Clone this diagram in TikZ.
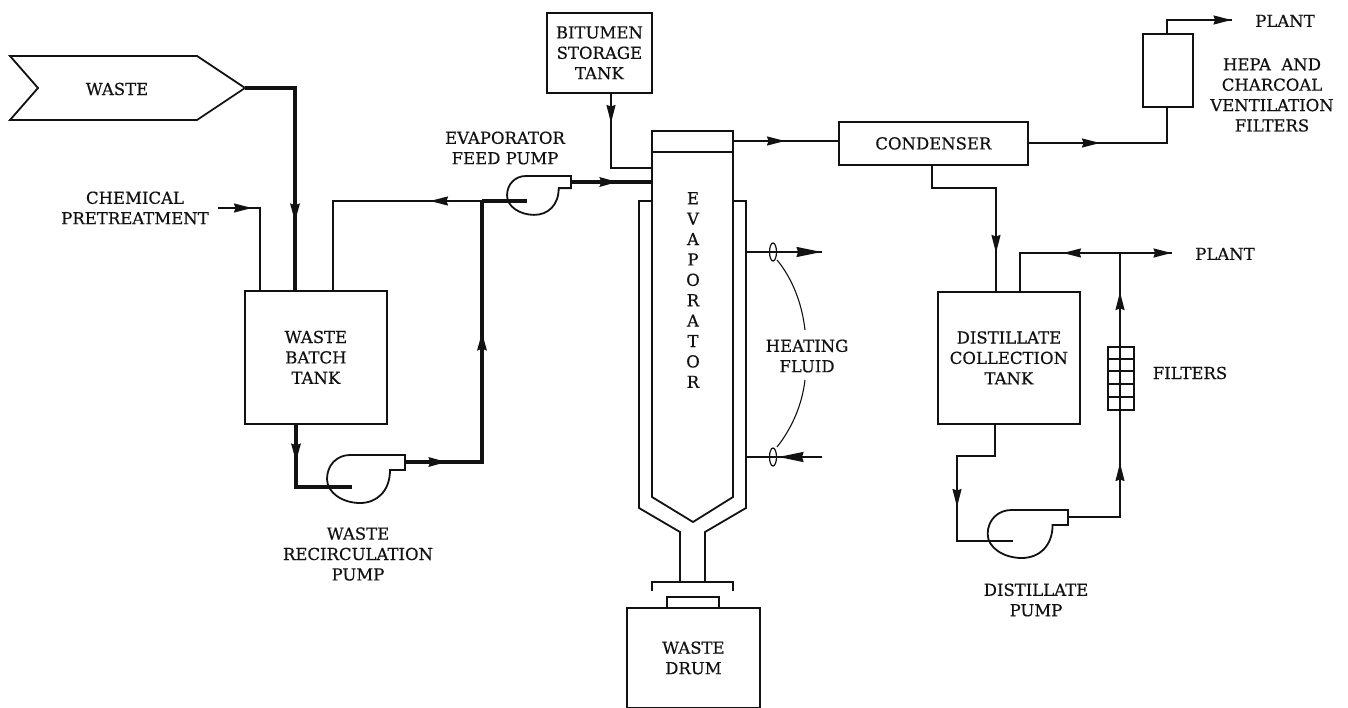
\documentclass[tikz,border=0pt]{standalone}
\usepackage{fontspec}
\setmainfont[FakeBold=0.5]{DejaVu Serif}
\usetikzlibrary{arrows.meta,decorations.markings}
\definecolor{ink}{gray}{0.07}
\tikzset{
  x=1pt,y=-1pt,
  every node/.style={font=\fontsize{16.5}{20.4}\selectfont,text=ink,align=center,inner sep=0pt},
  pipe/.style={draw=ink,line width=1.6pt,line join=miter},
  thick pipe/.style={draw=ink,line width=3.6pt,line join=miter},
  vessel/.style={draw=ink,line width=1.8pt,rectangle,anchor=north west},
  wall/.style={draw=ink,line width=1.8pt,line join=miter},
  tipat/.style={postaction={decorate,decoration={markings,mark=at position #1 with {\arrow{Stealth[length=18pt,width=9pt,inset=1.5pt,fill=ink]}}}}},
  bigtip/.style={postaction={decorate,decoration={markings,mark=at position #1 with {\arrow{Stealth[length=25pt,width=10pt,inset=1.5pt,fill=ink]}}}}},
}
\newcommand{\pumpbody}[3]{%
  \draw[wall,shift={(#1)},xscale=#2,yscale=#3]
    (0,0) -- (-55,0) .. controls (-68,0) and (-78,10) .. (-78,24)
    .. controls (-78,38) and (-62,48) .. (-45,48)
    .. controls (-28,48) and (-15,36) .. (-15,15) -- (0,15) -- cycle;}
\begin{document}
\begin{tikzpicture}
\useasboundingbox (0,0) rectangle (1348,708);
% vessels
\draw[wall] (10,56) -- (38,88) -- (10,120) -- (197,120) -- (245,88) -- (197,56) -- cycle;
\node (wastelabel) at (117,89) {WASTE};
\coordinate (wastetip) at (245,88);
\node[vessel,minimum width=142pt,minimum height=133pt] (batch) at (244,290) {WASTE\\BATCH\\TANK};
\node[vessel,minimum width=105pt,minimum height=80pt] (bitumen) at (546,12) {BITUMEN\\STORAGE\\TANK};
\node[vessel,minimum width=189pt,minimum height=43pt] (condenser) at (838,121) {CONDENSER};
\node[vessel,minimum width=50pt,minimum height=73pt] (hepa) at (1142,33) {};
\node[vessel,minimum width=142pt,minimum height=132pt] (dist) at (937,291) {DISTILLATE\\COLLECTION\\TANK};
\node[vessel,minimum width=133pt,minimum height=100pt] (drum) at (626,607) {WASTE\\DRUM};
% evaporator
\draw[wall] (652,201) -- (639,201) -- (639,508) -- (680,532) -- (680,582);
\draw[wall] (733,201) -- (746,201) -- (746,508) -- (705,532) -- (705,582);
\draw[wall] (652,131) -- (733,131) -- (733,497) -- (693,522) -- (652,497) -- cycle;
\draw[wall] (652,152) -- (733,152);
\draw[wall] (652,591) -- (652,582) -- (733,582) -- (733,591);
\draw[wall] (667,607) -- (667,597) -- (719,597) -- (719,607);
\node[anchor=north] (evap) at (693,192) {E\\V\\A\\P\\O\\R\\A\\T\\O\\R};
% pumps
\pumpbody{405,455}{1}{1}
\pumpbody{571,176}{0.82}{0.81}
\pumpbody{1068,510}{1.03}{1}
% filters
\node[vessel,minimum width=26pt,minimum height=63pt] (filt) at (1107,346) {};
\draw[pipe] (1107,359) -- (1133,359) (1107,371) -- (1133,371) (1107,384) -- (1133,384) (1107,397) -- (1133,397);
% named points
\coordinate (batchA) at (260,290); \coordinate (batchB) at (295,290); \coordinate (batchC) at (333,290); \coordinate (batchD) at (296,423);
\coordinate (chem) at (218,208); \coordinate (chemK) at (260,208);
\coordinate (wasteK) at (295,88);
\coordinate (recK) at (333,201); \coordinate (junc) at (482,201); \coordinate (feedc) at (527,201);
\coordinate (lowK) at (296,487); \coordinate (lowc) at (352,487);
\coordinate (lowout) at (405,462); \coordinate (lowK2) at (482,462);
\coordinate (feedout) at (571,182); \coordinate (evapin) at (652,182);
\coordinate (bitA) at (611,92); \coordinate (bitK) at (611,168); \coordinate (bitB) at (652,168);
\coordinate (evapout) at (733,141); \coordinate (condin) at (838,141);
\coordinate (condout) at (1027,143); \coordinate (condK) at (1167,143); \coordinate (hepain) at (1167,106);
\coordinate (hepaout) at (1167,33); \coordinate (hepaK) at (1167,20); \coordinate (plantA) at (1232,20);
\coordinate (condB) at (932,164); \coordinate (condBK) at (932,188); \coordinate (distK) at (996,188); \coordinate (distin) at (996,291);
\coordinate (distr) at (1020,291); \coordinate (distrK) at (1020,253); \coordinate (junc2) at (1120,253); \coordinate (plantB) at (1172,253);
\coordinate (filtT) at (1120,346); \coordinate (filtB) at (1120,409);
\coordinate (pumpOut) at (1068,517); \coordinate (pumpK) at (1120,517);
\coordinate (distout) at (995,423); \coordinate (distK1) at (995,456); \coordinate (distK2) at (957,456); \coordinate (distK3) at (957,541); \coordinate (distc) at (1013,541);
\coordinate (h1a) at (746,252); \coordinate (h1b) at (822,252); \coordinate (h2a) at (746,457); \coordinate (h2b) at (822,457); \coordinate (h2t) at (778,457);
% thick lines
\draw[thick pipe,tipat=184pt] (wastetip) -- (wasteK) -- (batchB);
\draw[thick pipe,tipat=39pt] (batchD) -- (lowK) -- (lowc);
\draw[thick pipe,tipat=42pt,tipat=207pt] (lowout) -- (lowK2) -- (junc);
\draw[thick pipe] (junc) -- (feedc);
\draw[thick pipe,tipat=47pt] (feedout) -- (evapin);
% thin lines
\draw[pipe,tipat=34pt] (chem) -- (chemK) -- (batchA);
\draw[pipe,tipat=52pt] (junc) -- (recK) -- (batchC);
\draw[pipe,tipat=31pt] (bitA) -- (bitK) -- (bitB);
\draw[pipe,tipat=52pt] (evapout) -- (condin);
\draw[pipe,tipat=73pt] (condout) -- (condK) -- (hepain);
\draw[pipe,tipat=77.5pt] (hepaout) -- (hepaK) -- (plantA);
\draw[pipe,tipat=153pt] (condB) -- (condBK) -- (distK) -- (distin);
\draw[pipe,tipat=57pt] (junc2) -- (distrK) -- (distr);
\draw[pipe,tipat=51.5pt] (junc2) -- (plantB);
\draw[pipe,tipat=54pt] (filtT) -- (junc2);
\draw[pipe,tipat=106pt] (pumpOut) -- (pumpK) -- (filtB);
\draw[pipe] (filtT) -- (filtB);
\draw[pipe,tipat=122pt] (distout) -- (distK1) -- (distK2) -- (distK3) -- (distc);
\draw[pipe,bigtip=75.5pt] (h1a) -- (h1b);
\draw[pipe] (h2a) -- (h2b);
\draw[pipe,bigtip=43.5pt] (h2b) -- (h2t);
% heating fluid
\draw[draw=ink,line width=1.2pt] (773,252) ellipse [x radius=3.5,y radius=9];
\draw[draw=ink,line width=1.2pt] (773,457) ellipse [x radius=3.5,y radius=9];
\draw[draw=ink,line width=1.1pt] (777,260) .. controls (792,278) and (802,303) .. (805,330);
\draw[draw=ink,line width=1.1pt] (805,380) .. controls (802,405) and (792,428) .. (777,447);
% labels
\node (l1) at (135,208) {CHEMICAL\\PRETREATMENT};
\node (l2) at (505,148) {EVAPORATOR\\FEED PUMP};
\node (l3) at (358,554) {WASTE\\RECIRCULATION\\PUMP};
\node (l4) at (807,356) {HEATING\\FLUID};
\node (l5) at (1036,600) {DISTILLATE\\PUMP};
\node (l6) at (1225,254) {PLANT};
\node (l7) at (1190,373) {FILTERS};
\node (l8) at (1285,21) {PLANT};
\node (l9) at (1272,95) {HEPA~ AND\\CHARCOAL\\VENTILATION\\FILTERS};
\end{tikzpicture}
\end{document}
